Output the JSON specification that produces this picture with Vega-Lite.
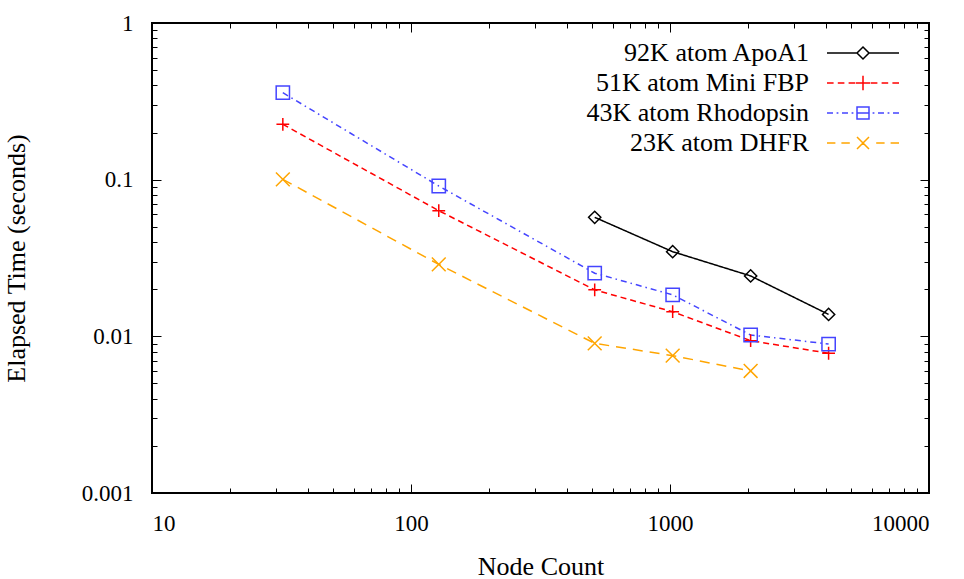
{
  "$schema": "https://vega.github.io/schema/vega-lite/v6.json",
  "width": 777,
  "height": 470,
  "autosize": "none",
  "padding": {"left": 152, "top": 23, "right": 35, "bottom": 86},
  "background": "white",
  "config": {
    "font": "Liberation Serif",
    "view": {"stroke": "black", "strokeWidth": 2},
    "axis": {"grid": false, "domain": false, "labelFont": "Liberation Serif", "titleFont": "Liberation Serif", "labelColor": "black", "titleColor": "black", "tickColor": "black", "tickWidth": 1, "titleFontWeight": "normal"},
    "legend": {"labelFont": "Liberation Serif"}
  },
  "data": {"values": [
    {"series": "92K atom ApoA1", "nodes": 512, "time": 0.0575},
    {"series": "92K atom ApoA1", "nodes": 1024, "time": 0.0347},
    {"series": "92K atom ApoA1", "nodes": 2048, "time": 0.0243},
    {"series": "92K atom ApoA1", "nodes": 4096, "time": 0.0138},
    {"series": "51K atom Mini FBP", "nodes": 32, "time": 0.2256},
    {"series": "51K atom Mini FBP", "nodes": 128, "time": 0.0634},
    {"series": "51K atom Mini FBP", "nodes": 512, "time": 0.0198},
    {"series": "51K atom Mini FBP", "nodes": 1024, "time": 0.01436},
    {"series": "51K atom Mini FBP", "nodes": 2048, "time": 0.00938},
    {"series": "51K atom Mini FBP", "nodes": 4096, "time": 0.0078},
    {"series": "43K atom Rhodopsin", "nodes": 32, "time": 0.359},
    {"series": "43K atom Rhodopsin", "nodes": 128, "time": 0.0911},
    {"series": "43K atom Rhodopsin", "nodes": 512, "time": 0.0253},
    {"series": "43K atom Rhodopsin", "nodes": 1024, "time": 0.0184},
    {"series": "43K atom Rhodopsin", "nodes": 2048, "time": 0.0102},
    {"series": "43K atom Rhodopsin", "nodes": 4096, "time": 0.00893},
    {"series": "23K atom DHFR", "nodes": 32, "time": 0.1005},
    {"series": "23K atom DHFR", "nodes": 128, "time": 0.0288},
    {"series": "23K atom DHFR", "nodes": 512, "time": 0.00902},
    {"series": "23K atom DHFR", "nodes": 1024, "time": 0.00753},
    {"series": "23K atom DHFR", "nodes": 2048, "time": 0.00601}
  ]},
  "resolve": {"axis": {"x": "independent", "y": "independent"}},
  "layer": [
    {
      "mark": {"type": "line", "strokeWidth": 1.5},
      "encoding": {
        "x": {"field": "nodes", "type": "quantitative", "scale": {"type": "log", "domain": [10, 10000], "nice": false},
          "axis": {"orient": "bottom", "values": [10, 100, 1000, 10000], "format": "~g", "ticks": false, "labelPadding": 19, "labelFontSize": 23, "title": "Node Count", "titleFontSize": 26, "titlePadding": 18,
            "encode": {"labels": {"update": {"font": {"value": "Liberation Serif"}}}}}},
        "y": {"field": "time", "type": "quantitative", "scale": {"type": "log", "domain": [0.001, 1], "nice": false},
          "axis": {"orient": "left", "values": [0.001, 0.01, 0.1, 1], "format": "~g", "ticks": false, "labelPadding": 19, "labelFontSize": 23, "title": "Elapsed Time (seconds)", "titleFontSize": 26, "titlePadding": 52,
            "encode": {"labels": {"update": {"font": {"value": "Liberation Serif"}}}}}},
        "color": {"field": "series", "type": "nominal", "legend": null,
          "scale": {"domain": ["92K atom ApoA1", "51K atom Mini FBP", "43K atom Rhodopsin", "23K atom DHFR"], "range": ["#000000", "#ff0000", "#4444ff", "#ffa500"]}},
        "strokeDash": {"field": "series", "type": "nominal", "legend": null,
          "scale": {"domain": ["92K atom ApoA1", "51K atom Mini FBP", "43K atom Rhodopsin", "23K atom DHFR"], "range": [[1, 0], [6, 4], [6, 4, 1.5, 4], [10, 7]]}}
      }
    },
    {
      "mark": {"type": "point", "filled": false, "strokeWidth": 1.5, "opacity": 1},
      "encoding": {
        "x": {"field": "nodes", "type": "quantitative", "axis": {"orient": "bottom", "values": [10, 100, 1000, 10000], "labels": false, "tickSize": 9, "offset": -9, "title": null}},
        "y": {"field": "time", "type": "quantitative", "axis": {"orient": "left", "values": [0.001, 0.01, 0.1, 1], "labels": false, "tickSize": 9, "offset": -9, "title": null}},
        "color": {"field": "series", "type": "nominal", "legend": null},
        "shape": {"field": "series", "type": "nominal", "legend": null,
          "scale": {"domain": ["92K atom ApoA1", "51K atom Mini FBP", "43K atom Rhodopsin", "23K atom DHFR"], "range": ["diamond", "M-1,0H1M0,-1V1", "square", "M-1,-1L1,1M-1,1L1,-1"]}},
        "size": {"field": "series", "type": "nominal", "legend": null,
          "scale": {"domain": ["92K atom ApoA1", "51K atom Mini FBP", "43K atom Rhodopsin", "23K atom DHFR"], "range": [150, 190, 150, 130]}}
      }
    },
    {
      "mark": {"type": "point", "opacity": 0},
      "encoding": {
        "x": {"field": "nodes", "type": "quantitative", "axis": {"orient": "bottom", "values": [20, 30, 40, 50, 60, 70, 80, 90, 200, 300, 400, 500, 600, 700, 800, 900, 2000, 3000, 4000, 5000, 6000, 7000, 8000, 9000], "labels": false, "tickSize": 5, "offset": -5, "title": null}},
        "y": {"field": "time", "type": "quantitative", "axis": {"orient": "left", "values": [0.002, 0.003, 0.004, 0.005, 0.006, 0.007, 0.008, 0.009, 0.02, 0.03, 0.04, 0.05, 0.06, 0.07, 0.08, 0.09, 0.2, 0.3, 0.4, 0.5, 0.6, 0.7, 0.8, 0.9], "labels": false, "tickSize": 5, "offset": -5, "title": null}}
      }
    },
    {
      "mark": {"type": "point", "opacity": 0},
      "encoding": {
        "x": {"field": "nodes", "type": "quantitative", "axis": {"orient": "top", "values": [10, 100, 1000, 10000], "labels": false, "tickSize": 9, "offset": -9, "title": null}},
        "y": {"field": "time", "type": "quantitative", "axis": {"orient": "right", "values": [0.001, 0.01, 0.1, 1], "labels": false, "tickSize": 9, "offset": -9, "title": null}}
      }
    },
    {
      "mark": {"type": "point", "opacity": 0},
      "encoding": {
        "x": {"field": "nodes", "type": "quantitative", "axis": {"orient": "top", "values": [20, 30, 40, 50, 60, 70, 80, 90, 200, 300, 400, 500, 600, 700, 800, 900, 2000, 3000, 4000, 5000, 6000, 7000, 8000, 9000], "labels": false, "tickSize": 5, "offset": -5, "title": null}},
        "y": {"field": "time", "type": "quantitative", "axis": {"orient": "right", "values": [0.002, 0.003, 0.004, 0.005, 0.006, 0.007, 0.008, 0.009, 0.02, 0.03, 0.04, 0.05, 0.06, 0.07, 0.08, 0.09, 0.2, 0.3, 0.4, 0.5, 0.6, 0.7, 0.8, 0.9], "labels": false, "tickSize": 5, "offset": -5, "title": null}}
      }
    },
    {
      "mark": {"type": "line", "opacity": 0},
      "encoding": {
        "x": {"field": "nodes", "type": "quantitative", "axis": null},
        "y": {"field": "time", "type": "quantitative", "axis": null},
        "detail": {"field": "series", "type": "nominal"},
        "stroke": {"field": "series", "type": "nominal",
          "scale": {"domain": ["23K atom DHFR", "43K atom Rhodopsin", "51K atom Mini FBP", "92K atom ApoA1"], "range": ["#ffa500", "#4444ff", "#ff0000", "#000000"]},
          "legend": {"title": null, "values": ["92K atom ApoA1", "51K atom Mini FBP", "43K atom Rhodopsin", "23K atom DHFR"], "orient": "none", "legendX": 698, "legendY": 17, "padding": 0, "symbolType": "stroke", "symbolSize": 144, "symbolStrokeWidth": 1.5, "symbolOpacity": 1, "labelFontSize": 26, "labelFont": "Liberation Serif", "labelColor": "black", "labelAlign": "right", "labelOffset": -67, "labelLimit": 400, "rowPadding": 4,
            "encode": {
              "labels": {"update": {"font": {"value": "Liberation Serif"}}},
              "symbols": {"update": {
              "fill": {"value": "transparent"},
              "opacity": {"value": 1},
              "shape": {"signal": "datum.value === '92K atom ApoA1' ? 'M-6,0H-1M1,0H6M0,-1L1,0L0,1L-1,0Z' : datum.value === '51K atom Mini FBP' ? 'M-6,0H-4.9M-4.2,0H-3.1M-2.4,0H-1.3M-1.2,0H1.2M0,-1.2V1.2M1.3,0H2.4M3.1,0H4.2M4.9,0H6' : datum.value === '43K atom Rhodopsin' ? 'M-6,0H-5M-4.4,0H-4.1M-3.5,0H-2.5M-1.9,0H-1.6M-1,-1H1V1H-1ZM-1,0H1M1.6,0H1.9M2.5,0H3.5M4.1,0H4.4M5,0H6' : 'M-6,0H-4.6M-3.6,0H-2.2M-1,-1L1,1M-1,1L1,-1M2.2,0H3.6M4.6,0H6'"}
            }}}
          }}
      }
    }
  ]
}
